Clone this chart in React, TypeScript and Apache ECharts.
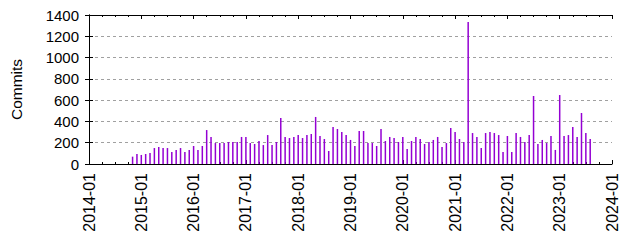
import React, { useEffect, useRef } from 'react';
import * as echarts from 'echarts';

// x tick labels (one per year)
const xTickLabels = ['2014-01', '2015-01', '2016-01', '2017-01', '2018-01', '2019-01', '2020-01', '2021-01', '2022-01', '2023-01', '2024-01'];
const yTickValues = [0, 200, 400, 600, 800, 1000, 1200, 1400];

// first month with data
const firstMonth = '2014-11';
// monthly commits from 2014-11 through 2023-08
const commits = [
  69, 94, 85, 94, 103, 150, 160, 150, 150, 113, 132, 150, 113, 132, 169, 132, 169, 319, 254, 197, 197, 197, 207, 207, 207, 254, 254, 197, 188, 216, 178, 272, 178,
  207, 432, 254, 244, 254, 272, 244, 272, 282, 442, 263, 235, 122, 348, 329, 301, 272, 226, 169, 310, 310, 197, 197, 169, 329, 216, 254, 244, 207, 254, 141, 216, 254, 235, 188, 207, 226, 254, 160, 197, 338,
  301, 235, 207, 1334, 291, 254, 150, 291, 301, 291, 272, 113, 263, 113, 291, 254, 207, 272, 639, 188, 226, 197, 263, 132, 648, 263, 272, 348, 254, 479, 291, 235,
];

const baseYear = 2014;
const monthIndexOf = (ym: string) => {
  const [y, m] = ym.split('-').map(Number);
  return (y - baseYear) * 12 + (m - 1);
};

const FONT = '"Liberation Sans", Arial, sans-serif';

export default function App() {
  const ref = useRef<HTMLDivElement>(null);
  useEffect(() => {
    if (!ref.current) return;
    const chart = echarts.init(ref.current, undefined, { renderer: 'svg' });
    const start = monthIndexOf(firstMonth);
    const data = commits.map((v, i) => [start + i, v]);
    const xMax = (xTickLabels.length - 1) * 12;
    const common = {
      type: 'value' as const,
      min: 0,
      max: xMax,
      interval: 12,
      splitLine: { show: false },
      axisLine: { show: true, onZero: false, lineStyle: { color: '#000', width: 1 } },
      axisTick: { show: true, inside: true, length: 4, lineStyle: { color: '#000' } },
      minorTick: { show: true, splitNumber: 4, length: 2, lineStyle: { color: '#000' } },
    };
    chart.setOption({
      animation: false,
      grid: { left: 82, right: 28, top: 15, bottom: 76, containLabel: false },
      xAxis: [
        {
          ...common,
          position: 'bottom',
          axisLabel: {
            rotate: 90,
            margin: 9,
            color: '#000',
            fontFamily: FONT,
            fontSize: 16,
            formatter: (v: number) => xTickLabels[Math.round(v / 12)] ?? '',
          },
        },
        { ...common, position: 'top', axisLabel: { show: false } },
      ],
      yAxis: [
        {
          type: 'value',
          min: 0,
          max: 1400,
          interval: 200,
          name: 'Commits',
          nameLocation: 'middle',
          nameGap: 65,
          nameTextStyle: { color: '#000', fontFamily: FONT, fontSize: 15.5 },
          axisLine: { show: true, lineStyle: { color: '#000', width: 1 } },
          axisTick: { show: true, inside: true, length: 4, lineStyle: { color: '#000' } },
          axisLabel: {
            color: '#000',
            fontFamily: FONT,
            fontSize: 15,
            margin: 10,
            formatter: (v: number) => (yTickValues.includes(v) ? String(v) : ''),
          },
          splitLine: { show: true, lineStyle: { color: '#a0a0a0', type: [3, 3], width: 1 } },
        },
        {
          type: 'value',
          min: 0,
          max: 1400,
          interval: 200,
          position: 'right',
          axisLine: { show: true, lineStyle: { color: '#000', width: 1 } },
          axisTick: { show: true, inside: true, length: 4, lineStyle: { color: '#000' } },
          axisLabel: { show: false },
          splitLine: { show: false },
        },
      ],
      series: [
        {
          type: 'bar',
          xAxisIndex: 0,
          yAxisIndex: 0,
          data,
          barWidth: 1.5,
          itemStyle: { color: '#9400d3' },
        },
      ],
    });
    return () => chart.dispose();
  }, []);
  return <div ref={ref} style={{ width: 640, height: 240, position: 'absolute', left: 0, top: 0 }} />;
}
